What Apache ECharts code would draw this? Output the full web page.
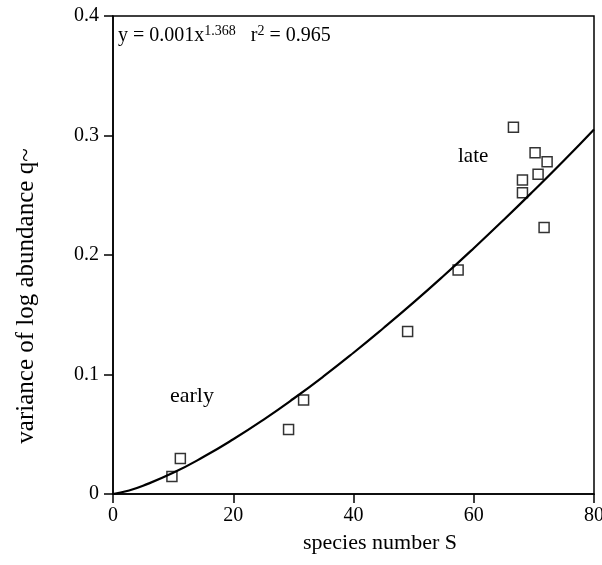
<!DOCTYPE html>
<html>
<head>
<meta charset="utf-8">
<script src="https://cdn.jsdelivr.net/npm/echarts@6/dist/echarts.min.js"></script>
<style>html,body{margin:0;padding:0;background:#fff;}#c{width:602px;height:565px;}</style>
</head>
<body>
<div id="c"></div>
<script>
// Observed points (species number S, variance of log abundance)
const speciesS = [9.8, 11.2, 29.2, 31.7, 49.0, 57.4, 66.6, 68.1, 68.1, 70.2, 70.7, 71.7, 72.2];
const varianceQ = [0.0147, 0.0298, 0.054, 0.0787, 0.136, 0.1875, 0.307, 0.2628, 0.252, 0.2856, 0.2675, 0.223, 0.278];

// Fitted curve
const fitS = [0, 2.5, 5, 10, 15, 20, 25, 30, 35, 40, 45, 50, 55, 60, 65, 70, 75, 80];
const fitQ = [0, 0.0027, 0.0069, 0.0177, 0.0309, 0.0458, 0.0621, 0.0797, 0.0984, 0.1182, 0.1389, 0.1603, 0.1826, 0.2057, 0.2295, 0.2540, 0.2791, 0.3051];

const xTicks = [0, 20, 40, 60, 80];
const yTicks = [0, 0.1, 0.2, 0.3, 0.4];

const font = '"Liberation Serif", "DejaVu Serif", serif';
const chart = echarts.init(document.getElementById('c'), null, {renderer: 'canvas'});
chart.setOption({
  animation: false,
  backgroundColor: '#fff',
  grid: {left: 113, top: 16, width: 481, height: 478, outerBoundsMode: 'none', containLabel: false,
    show: true, borderColor: '#000', borderWidth: 1.5, backgroundColor: 'transparent'},
  xAxis: {
    type: 'value', min: xTicks[0], max: xTicks[xTicks.length - 1], interval: 20,
    axisLine: {lineStyle: {color: '#000', width: 1.5}},
    axisTick: {show: true, length: 9, lineStyle: {color: '#000', width: 1.5}},
    axisLabel: {color: '#000', fontFamily: font, fontSize: 20, margin: 12},
    splitLine: {show: false}
  },
  yAxis: {
    type: 'value', min: yTicks[0], max: yTicks[yTicks.length - 1], interval: 0.1,
    axisLine: {lineStyle: {color: '#000', width: 1.5}},
    axisTick: {show: true, length: 9, lineStyle: {color: '#000', width: 1.5}},
    axisLabel: {color: '#000', fontFamily: font, fontSize: 20, margin: 14,
      formatter: v => (v === 0 ? '0' : v.toFixed(1))},
    splitLine: {show: false}
  },
  series: [
    {
      type: 'line', data: fitS.map((s, i) => [s, fitQ[i]]), smooth: true, showSymbol: false,
      lineStyle: {color: '#000', width: 2.2}, z: 2
    },
    {
      type: 'scatter', data: speciesS.map((s, i) => [s, varianceQ[i]]), symbol: 'rect', symbolSize: 10,
      itemStyle: {color: 'rgba(255,255,255,0)', borderColor: '#000', borderWidth: 1.5}, z: 3
    }
  ],
  graphic: [
    {type: 'text', left: 118, top: 24, style: {
      text: '{n|y = 0.001x}{s|1.368}{n|   r}{s|2}{n| = 0.965}',
      rich: {
        n: {fontFamily: font, fontSize: 20, fill: '#000', verticalAlign: 'bottom', lineHeight: 22},
        s: {fontFamily: font, fontSize: 14, fill: '#000', verticalAlign: 'top', lineHeight: 22}
      }
    }},
    {type: 'text', left: 458, top: 146, style: {text: 'late', fontFamily: font, fontSize: 21, fill: '#000'}},
    {type: 'text', left: 170, top: 385, style: {text: 'early', fontFamily: font, fontSize: 22, fill: '#000'}},
    {type: 'text', x: 380, y: 543, style: {text: 'species number S', fontFamily: font, fontSize: 22, fill: '#000', align: 'center', verticalAlign: 'middle'}},
    {type: 'text', x: 26, y: 296, rotation: Math.PI / 2, style: {text: 'variance of log abundance q~', fontFamily: font, fontSize: 25, fill: '#000', align: 'center', verticalAlign: 'middle'}}
  ]
});
</script>
</body>
</html>
